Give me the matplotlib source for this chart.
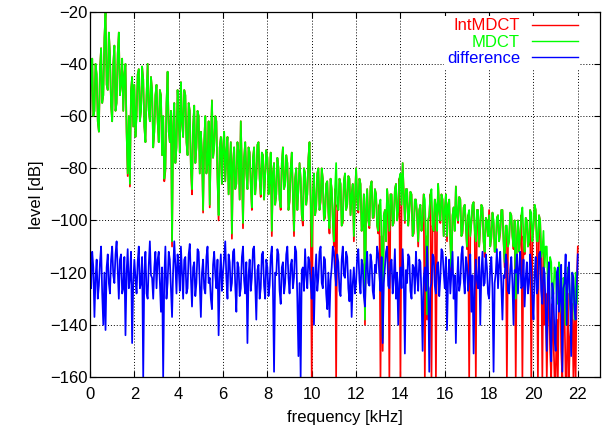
import numpy as np
import matplotlib
matplotlib.use("Agg")
import matplotlib.pyplot as plt

# Spectrum levels in dB, one value every 0.05 kHz from 0 to 22 kHz
# (one row of 20 values per kHz)
mdct = [
    -63, -45, -38, -60, -58, -40, -44, -62, -66, -42, -34, -55, -52, -30, -20, -48, -50, -28, -36, -56,
    -62, -40, -33, -58, -55, -36, -28, -52, -48, -38, -58, -44, -40, -66, -82, -60, -86, -50, -45, -64,
    -48, -68, -60, -44, -42, -62, -58, -41, -46, -64, -70, -52, -40, -58, -62, -45, -50, -72, -66, -52,
    -48, -62, -70, -50, -52, -75, -60, -84, -80, -55, -43, -66, -70, -58, -108, -64, -55, -78, -72, -50,
    -60, -74, -47, -62, -68, -50, -52, -70, -75, -55, -58, -80, -88, -64, -56, -78, -72, -58, -60, -82,
    -66, -74, -96, -70, -60, -82, -78, -62, -94, -70, -54, -76, -72, -60, -62, -84, -98, -72, -68, -86,
    -72, -66, -85, -74, -68, -90, -80, -70, -105, -78, -72, -88, -86, -70, -74, -92, -62, -80, -101, -76,
    -70, -82, -88, -72, -74, -86, -95, -76, -72, -90, -84, -71, -70, -84, -90, -74, -75, -92, -82, -73,
    -76, -90, -85, -74, -104, -82, -78, -94, -90, -76, -80, -92, -95, -78, -72, -88, -86, -75, -78, -96,
    -92, -80, -74, -90, -104, -84, -80, -96, -88, -78, -84, -98, -100, -80, -82, -94, -90, -76, -70, -92,
    -110, -90, -82, -98, -95, -82, -80, -96, -92, -80, -84, -100, -98, -86, -85, -97, -103, -84, -88, -100,
    -108, -88, -78, -94, -96, -84, -86, -102, -100, -85, -82, -96, -94, -83, -84, -98, -90, -86, -106, -92,
    -80, -92, -96, -84, -86, -104, -100, -90, -138, -96, -88, -100, -102, -87, -85, -99, -98, -88, -90, -102,
    -104, -94, -92, -106, -145, -98, -96, -108, -88, -94, -104, -90, -90, -102, -100, -88, -86, -100, -96, -84,
    -82, -94, -78, -90, -100, -88, -88, -102, -96, -89, -90, -106, -104, -92, -92, -98, -108, -96, -94, -104,
    -100, -90, -92, -106, -136, -100, -98, -90, -88, -102, -104, -92, -94, -104, -86, -96, -100, -90, -92, -106,
    -96, -90, -106, -94, -92, -108, -118, -98, -95, -104, -87, -98, -100, -91, -92, -106, -104, -95, -94, -102,
    -110, -98, -96, -106, -100, -94, -93, -104, -108, -96, -96, -110, -102, -94, -95, -108, -112, -99, -100, -106,
    -98, -110, -106, -97, -100, -112, -110, -99, -98, -108, -104, -96, -96, -108, -116, -102, -102, -110, -108, -97,
    -98, -106, -110, -100, -130, -108, -100, -112, -106, -98, -95, -106, -112, -99, -100, -110, -108, -96, -97, -108,
    -102, -94, -96, -108, -108, -98, -100, -114, -112, -104, -118, -110, -110, -126, -124, -114, -116, -130, -128, -118,
    -120, -128, -132, -116, -118, -134, -138, -122, -124, -140, -130, -118, -122, -132, -136, -120, -126, -138, -120, -132,
    -125,
]

intmdct = [
    -63, -45, -38, -60, -58, -40, -44, -62, -66, -42, -34, -55, -52, -30, -20, -48, -50, -28, -36, -56,
    -62, -40, -33, -58, -55, -36, -28, -52, -48, -38, -58, -44, -40, -66, -83, -60, -87, -50, -45, -64,
    -48, -68, -60, -44, -42, -62, -58, -41, -46, -64, -70, -52, -40, -58, -62, -45, -50, -72, -66, -52,
    -48, -62, -70, -50, -52, -75, -60, -85, -81, -55, -43, -66, -70, -58, -110, -64, -55, -78, -72, -50,
    -60, -74, -47, -62, -68, -50, -52, -70, -75, -55, -58, -80, -90, -64, -56, -78, -72, -58, -60, -82,
    -66, -74, -97, -70, -60, -82, -78, -62, -95, -70, -54, -76, -72, -60, -62, -84, -100, -72, -68, -86,
    -72, -66, -85, -74, -68, -90, -80, -70, -107, -78, -72, -88, -86, -70, -74, -92, -62, -80, -103, -76,
    -70, -82, -88, -72, -74, -86, -96, -76, -72, -90, -84, -71, -70, -84, -91, -74, -75, -92, -82, -73,
    -76, -90, -85, -74, -106, -82, -78, -94, -90, -76, -80, -92, -96, -78, -72, -88, -86, -75, -78, -96,
    -93, -80, -74, -90, -106, -84, -80, -96, -88, -78, -84, -98, -102, -80, -82, -94, -90, -76, -70, -92,
    -160, -90, -82, -98, -95, -82, -80, -96, -93, -80, -84, -100, -99, -86, -85, -97, -105, -84, -88, -100,
    -110, -88, -160, -94, -96, -84, -86, -102, -101, -85, -82, -96, -94, -83, -84, -98, -90, -86, -108, -92,
    -80, -92, -97, -84, -86, -104, -101, -90, -140, -96, -88, -100, -103, -87, -85, -99, -99, -88, -90, -102,
    -105, -94, -160, -106, -150, -98, -96, -108, -88, -94, -160, -90, -90, -102, -101, -88, -86, -100, -96, -84,
    -160, -94, -78, -90, -101, -88, -88, -102, -97, -89, -90, -106, -105, -92, -92, -98, -110, -96, -94, -104,
    -101, -90, -160, -106, -138, -100, -98, -90, -160, -102, -104, -92, -160, -104, -86, -96, -101, -90, -92, -106,
    -97, -90, -108, -94, -92, -108, -120, -98, -95, -104, -87, -98, -101, -91, -92, -106, -105, -95, -94, -102,
    -111, -98, -160, -106, -101, -94, -93, -104, -160, -96, -96, -110, -103, -94, -95, -108, -114, -99, -100, -106,
    -96, -110, -107, -97, -101, -112, -112, -99, -98, -108, -105, -96, -96, -108, -118, -102, -160, -110, -108, -97,
    -98, -106, -111, -100, -160, -108, -100, -112, -107, -98, -160, -106, -113, -99, -100, -110, -109, -96, -160, -108,
    -103, -94, -96, -108, -160, -98, -100, -114, -160, -112, -140, -128, -160, -135, -126, -150, -160, -132, -145, -160,
    -160, -138, -160, -125, -122, -150, -160, -130, -135, -160, -160, -128, -160, -145, -140, -132, -160, -138, -160, -126,
    -110,
]

difference = [
    -120, -126, -112, -118, -137, -122, -115, -130, -125, -116, -110, -128, -140, -120, -142, -118, -113, -124, -128, -115,
    -110, -121, -124, -113, -108, -119, -130, -115, -113, -128, -126, -114, -144, -120, -111, -126, -122, -112, -147, -124,
    -115, -122, -128, -116, -110, -126, -124, -114, -160, -120, -112, -128, -130, -117, -108, -121, -122, -130, -118, -112,
    -126, -115, -112, -124, -135, -118, -160, -122, -110, -130, -124, -112, -115, -126, -137, -119, -108, -117, -128, -113,
    -118, -127, -110, -120, -130, -115, -114, -128, -126, -113, -109, -122, -133, -118, -116, -129, -124, -111, -112, -125,
    -137, -120, -115, -126, -128, -114, -110, -124, -122, -130, -134, -117, -112, -121, -126, -115, -144, -122, -113, -127,
    -120, -114, -108, -122, -130, -113, -116, -127, -124, -112, -111, -125, -135, -116, -118, -129, -126, -114, -110, -123,
    -128, -116, -147, -121, -115, -127, -122, -111, -110, -124, -138, -119, -117, -130, -126, -113, -112, -125, -130, -115,
    -118, -129, -125, -114, -110, -126, -158, -120, -121, -111, -113, -127, -132, -118, -116, -128, -124, -113, -110, -122,
    -128, -117, -115, -126, -122, -110, -112, -130, -152, -124, -160, -119, -118, -127, -111, -121, -126, -114, -116, -124,
    -130, -118, -140, -121, -113, -127, -122, -112, -110, -124, -126, -114, -115, -128, -134, -120, -137, -123, -118, -110,
    -112, -120, -125, -113, -116, -127, -129, -115, -110, -121, -122, -112, -114, -126, -131, -119, -137, -124, -118, -128,
    -124, -114, -111, -123, -128, -115, -117, -129, -133, -118, -112, -124, -125, -113, -116, -127, -130, -117, -120, -110,
    -113, -121, -127, -114, -147, -124, -118, -112, -110, -125, -126, -116, -115, -128, -122, -111, -130, -120, -140, -124,
    -118, -126, -111, -122, -151, -119, -124, -113, -114, -127, -130, -117, -118, -128, -112, -121, -127, -115, -116, -129,
    -150, -122, -118, -127, -110, -121, -158, -126, -124, -113, -114, -125, -128, -117, -116, -129, -122, -111, -112, -120,
    -126, -114, -142, -122, -115, -128, -120, -112, -130, -121, -147, -125, -114, -127, -124, -113, -110, -122, -128, -114,
    -117, -127, -122, -113, -135, -121, -151, -126, -115, -123, -126, -114, -140, -120, -112, -125, -124, -113, -118, -128,
    -130, -118, -114, -126, -158, -124, -120, -111, -126, -117, -112, -125, -138, -121, -122, -113, -116, -127, -128, -119,
    -114, -124, -140, -119, -120, -113, -128, -118, -112, -126, -125, -115, -133, -122, -116, -128, -124, -113, -118, -130,
    -138, -121, -114, -128, -126, -113, -112, -127, -132, -118, -120, -134, -150, -122, -116, -140, -154, -124, -128, -145,
    -150, -120, -118, -135, -130, -117, -158, -126, -124, -113, -140, -122, -116, -130, -152, -120, -122, -134, -138, -126,
    -113,
]

freq = np.linspace(0, 22, len(mdct))  # kHz bins

plt.rcParams["font.family"] = ["Liberation Sans", "DejaVu Sans"]

fig = plt.figure(figsize=(6.02, 4.32), dpi=100)
ax = fig.add_axes([90 / 602, 1 - 377 / 432, 510 / 602, (377 - 11.7) / 432])

ax.plot(freq, intmdct, color="#ff0000", lw=1.25, label="IntMDCT")
ax.plot(freq, mdct, color="#00ff00", lw=1.25, label="MDCT")
ax.plot(freq, difference, color="#0000ff", lw=1.25, label="difference")

ax.set_xlim(0, 23)
ax.set_ylim(-160, -20)
ax.set_xticks(range(0, 23, 2))
ax.set_yticks(range(-160, -19, 20))

ax.grid(True, color="black", lw=0.7, linestyle=(0, (1, 2)))
ax.tick_params(direction="in", top=True, right=True, length=4.5,
               width=0.8, labelsize=12)
ax.tick_params(axis="x", pad=7)
ax.tick_params(axis="y", pad=2)
for s in ax.spines.values():
    s.set_linewidth(0.9)

ax.set_xlabel("frequency [kHz]", fontsize=12, labelpad=6)
ax.set_ylabel("level [dB]", fontsize=12, labelpad=4)

leg = ax.legend(loc="upper right", bbox_to_anchor=(580 / 602, 1 - 16 / 432),
                bbox_transform=fig.transFigure, markerfirst=False,
                frameon=True, fancybox=False, framealpha=1, edgecolor="none",
                fontsize=12, handlelength=2.75, handletextpad=0.7,
                labelspacing=0.08, borderpad=0.15, borderaxespad=0)
for t, line in zip(leg.get_texts(), leg.get_lines()):
    t.set_color(line.get_color())
    line.set_linewidth(1.0)

fig.savefig("out.png", dpi=100)
